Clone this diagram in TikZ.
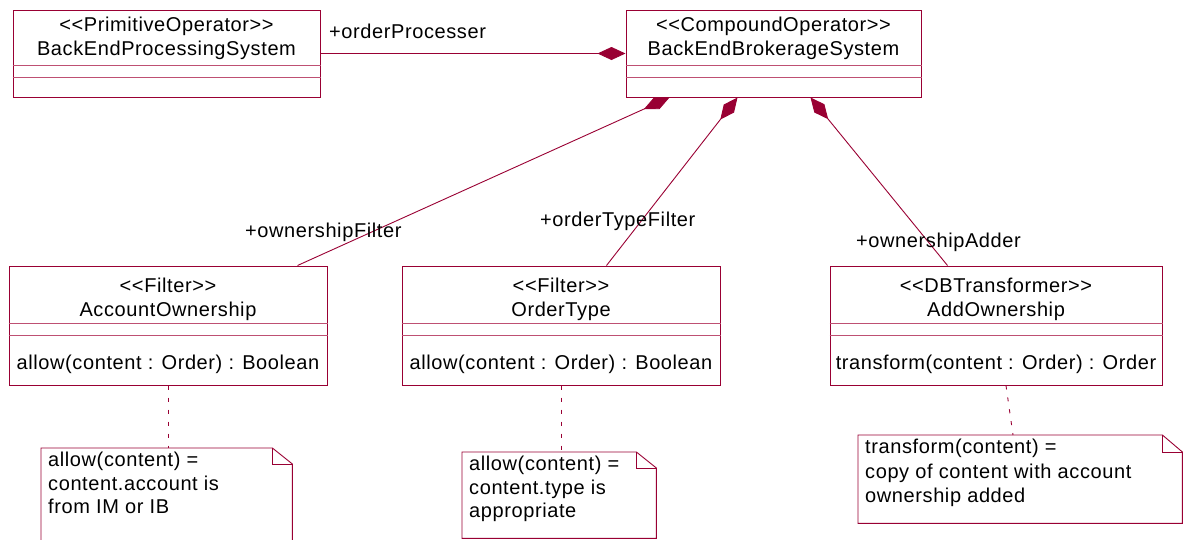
\documentclass[tikz,border=0pt]{standalone}
\usepackage{fontspec}
\setmainfont{Liberation Sans}[LetterSpace=3]
\usetikzlibrary{arrows.meta,calc}
\definecolor{umlred}{RGB}{153,0,51}
\definecolor{umlpink}{RGB}{190,80,115}
\begin{document}
\begin{tikzpicture}[x=1pt,y=-1pt,
  txt/.style={font=\fontsize{20}{24}\selectfont, inner sep=0pt, text=black},
  clsbox/.style={draw=umlred, line width=1pt, inner sep=0pt, minimum height=#1},
  sep/.style={draw=umlpink, line width=1pt},
  comp/.style={draw=umlred, line width=0.9pt, -{Diamond[length=28pt,width=13pt,fill=umlred]}},
  notebox/.style={inner sep=0pt, minimum width=#1},
  noteline/.style={draw=umlred, line width=0.9pt},
  anchorline/.style={draw=umlred, line width=0.9pt, dash pattern=on 4pt off 8pt}
]
\useasboundingbox (0,0) rectangle (1183,539);

% ---- class boxes ----
\node[clsbox=87pt, minimum width=307pt] (b1) at (166.5,53.5) {};
\node[clsbox=87pt, minimum width=295pt] (b2) at (773.5,53.5) {};
\node[clsbox=119pt, minimum width=318pt] (b3) at (168,325.5) {};
\node[clsbox=119pt, minimum width=318pt] (b4) at (561,325.5) {};
\node[clsbox=119pt, minimum width=332pt] (b5) at (996,325.5) {};

% compartment separators
\foreach \b in {b1,b2}{
  \draw[sep] ($(\b.north west)+(0,56)$) -- ($(\b.north east)+(0,56)$);
  \draw[sep] ($(\b.north west)+(0,68)$) -- ($(\b.north east)+(0,68)$);
}
\foreach \b in {b3,b4,b5}{
  \draw[sep] ($(\b.north west)+(0,58)$) -- ($(\b.north east)+(0,58)$);
  \draw[sep] ($(\b.north west)+(0,70)$) -- ($(\b.north east)+(0,70)$);
}

% header texts
\node[txt, align=center] (t1) at ($(b1.north)+(0,28.5)$) {{<}{<}PrimitiveOperator{>}{>}\\BackEndProcessingSystem};
\node[txt, align=center] (t2) at ($(b2.north)+(0,28.5)$) {{<}{<}CompoundOperator{>}{>}\\BackEndBrokerageSystem};
\node[txt, align=center] (t3) at ($(b3.north)+(0,34)$) {{<}{<}Filter{>}{>}\\AccountOwnership};
\node[txt, align=center] (t4) at ($(b4.north)+(0,34)$) {{<}{<}Filter{>}{>}\\OrderType};
\node[txt, align=center] (t5) at ($(b5.north)+(0,34)$) {{<}{<}DBTransformer{>}{>}\\AddOwnership};

% operations
\node[txt] (o3) at ($(b3.north)+(0,99)$) {allow(content : Order) : Boolean};
\node[txt] (o4) at ($(b4.north)+(0,99)$) {allow(content : Order) : Boolean};
\node[txt] (o5) at ($(b5.north)+(0,99)$) {transform(content : Order) : Order};

% ---- associations ----
\draw[comp] (b1.east) -- (b2.west);
\node[txt, anchor=west] (l1) at (329,31) {+orderProcesser};

\coordinate (a1s) at ($(b3.north west)+(289,0)$);
\coordinate (a1e) at ($(b2.south west)+(44,0)$);
\draw[comp] (a1s) -- (a1e);
\node[txt, anchor=west] (l2) at (245,232) {+ownershipFilter};

\coordinate (a2s) at ($(b4.north west)+(205,0)$);
\coordinate (a2e) at ($(b2.south west)+(112,0)$);
\draw[comp] (a2s) -- (a2e);
\node[txt, anchor=west] (l3) at (540,221) {+orderTypeFilter};

\coordinate (a3s) at ($(b5.north west)+(118,0)$);
\coordinate (a3e) at ($(b2.south west)+(185,0)$);
\draw[comp] (a3s) -- (a3e);
\node[txt, anchor=west] (l4) at (856,242) {+ownershipAdder};

% ---- notes ----
\node[notebox=251pt, minimum height=100pt, anchor=north west] (n1) at (41,448) {};
\node[notebox=194pt, minimum height=86pt, anchor=north west] (n2) at (462,452) {};
\node[notebox=324pt, minimum height=88pt, anchor=north west] (n3) at (858,435) {};

% note 1 (runs off the bottom edge)
\draw[noteline] (n1.south west) -- (n1.north west) -- ($(n1.north east)+(-20,0)$) -- ($(n1.north east)+(0,16)$) -- (n1.south east);
\draw[noteline] ($(n1.north east)+(-20,0)$) -- ($(n1.north east)+(-20,16)$) -- ($(n1.north east)+(0,16)$);
% note 2
\draw[noteline] (n2.south west) -- (n2.north west) -- ($(n2.north east)+(-20,0)$) -- ($(n2.north east)+(0,16)$) -- (n2.south east) -- cycle;
\draw[noteline] ($(n2.north east)+(-20,0)$) -- ($(n2.north east)+(-20,16)$) -- ($(n2.north east)+(0,16)$);
% note 3
\draw[noteline] (n3.south west) -- (n3.north west) -- ($(n3.north east)+(-20,0)$) -- ($(n3.north east)+(0,17)$) -- (n3.south east) -- cycle;
\draw[noteline] ($(n3.north east)+(-20,0)$) -- ($(n3.north east)+(-20,17)$) -- ($(n3.north east)+(0,17)$);

\node[txt, align=left, anchor=north west, font=\fontsize{20}{23.5}\selectfont] (nt1) at ($(n1.north west)+(7,4)$) {allow(content) =\\content.account is\\from IM or IB};
\node[txt, align=left, anchor=north west, font=\fontsize{20}{23.5}\selectfont] (nt2) at ($(n2.north west)+(7,4)$) {allow(content) =\\content.type is\\appropriate};
\node[txt, align=left, anchor=north west, font=\fontsize{20}{24.5}\selectfont] (nt3) at ($(n3.north west)+(7,4)$) {transform(content) =\\copy of content with account\\ownership added};

% note anchors
\draw[anchorline] (b3.south) -- (b3.south |- n1.north);
\draw[anchorline] (b4.south) -- (b4.south |- n2.north);
\coordinate (d3a) at ($(b5.south)+(10,0)$);
\coordinate (d3b) at ($(n3.north west)+(155,0)$);
\draw[anchorline] (d3a) -- (d3b);
\end{tikzpicture}
\end{document}
